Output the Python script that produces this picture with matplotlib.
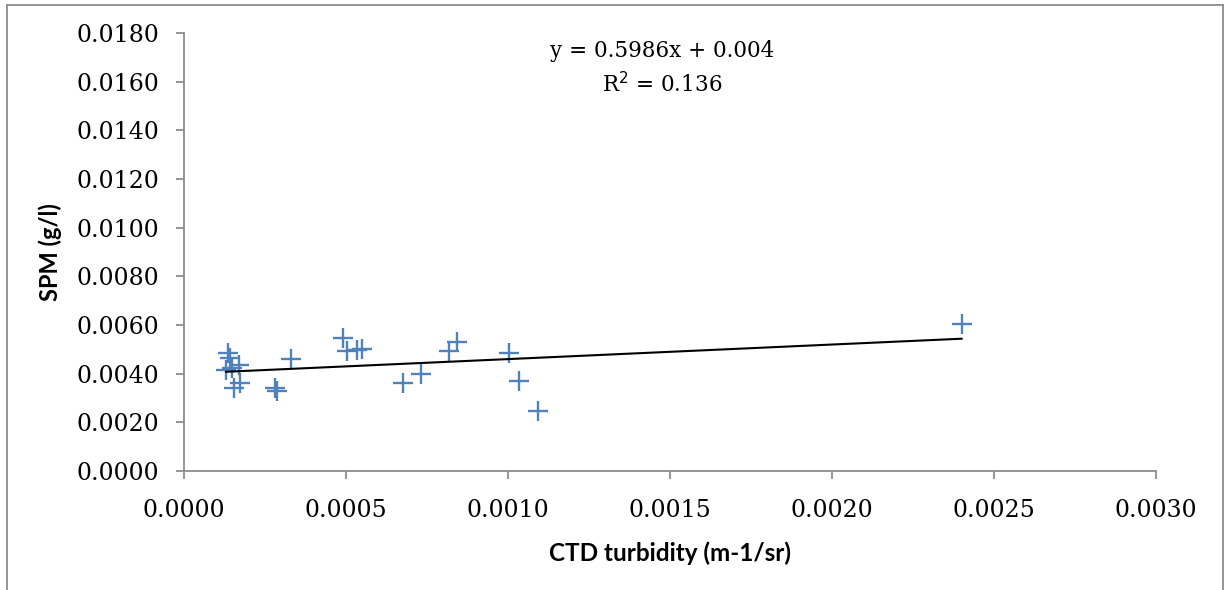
import numpy as np
import matplotlib.pyplot as plt
from matplotlib.lines import Line2D

# CTD turbidity (m-1/sr) and SPM (g/l)
turbidity = [0.000136, 0.000142, 0.000130, 0.000148, 0.000170, 0.000173, 0.000154,
             0.000330, 0.000280, 0.000287,
             0.000490, 0.000503, 0.000534, 0.000549,
             0.000676, 0.000731, 0.000818, 0.000842,
             0.001003, 0.001034, 0.001092, 0.002400]
spm = [0.00486, 0.00465, 0.00416, 0.00424, 0.00437, 0.00362, 0.00342,
       0.00461, 0.00342, 0.00330,
       0.00548, 0.00494, 0.00498, 0.00502,
       0.00362, 0.00400, 0.00494, 0.00531,
       0.00486, 0.00371, 0.00247, 0.00605]

slope = 0.5986
intercept = 0.004
r2 = 0.136

xticks = np.arange(0, 0.00301, 0.0005)
yticks = np.arange(0, 0.01801, 0.002)

fig = plt.figure(figsize=(12.26, 5.90), dpi=100)
ax = fig.add_axes([184 / 1226, 1 - 471 / 590, (1156 - 184) / 1226, (471 - 33) / 590])

ax.plot(turbidity, spm, linestyle='none', marker='+', markersize=15,
        markeredgewidth=1.7, color='#4f81bd')

xfit = np.array([min(turbidity), max(turbidity)])
ax.plot(xfit, slope * xfit + intercept, color='black', linewidth=1.5)

ax.set_xlim(0, 0.003)
ax.set_ylim(0, 0.018)
ax.set_xticks(xticks)
ax.set_yticks(yticks)
ax.set_xticklabels([f'{v:.4f}' for v in xticks])
ax.set_yticklabels([f'{v:.4f}' for v in yticks])

for s in ['top', 'right']:
    ax.spines[s].set_visible(False)
for s in ['left', 'bottom']:
    ax.spines[s].set_color('#8c8c8c')
    ax.spines[s].set_linewidth(1.3)
ax.tick_params(direction='out', length=6, width=1.3, color='#8c8c8c')
ax.tick_params(axis='x', pad=14)
ax.tick_params(axis='y', pad=12)
for lbl in ax.get_xticklabels() + ax.get_yticklabels():
    lbl.set_fontfamily('DejaVu Serif')
    lbl.set_fontsize(17)

ax.set_xlabel('CTD turbidity (m-1/sr)', fontsize=17.5, fontweight='bold',
              family='Lato', labelpad=14)
ax.set_ylabel('SPM (g/l)', fontsize=17, fontweight='bold', family='Lato', labelpad=10)

ax.text(0.001475, 0.01654, f'y = {slope}x + {intercept}\nR$^2$ = {r2}', ha='center', va='center',
        fontsize=15.5, family='DejaVu Serif', linespacing=1.5)

# outer chart border
fig.add_artist(Line2D([7 / 1226, 7 / 1226], [0, 1 - 5 / 590], transform=fig.transFigure,
                      color='#8c8c8c', linewidth=1.3))
fig.add_artist(Line2D([7 / 1226, 1223 / 1226], [1 - 5 / 590, 1 - 5 / 590],
                      transform=fig.transFigure, color='#8c8c8c', linewidth=1.3))
fig.add_artist(Line2D([1223 / 1226, 1223 / 1226], [0, 1 - 5 / 590], transform=fig.transFigure,
                      color='#8c8c8c', linewidth=1.3))

fig.savefig('out.png', dpi=100)
